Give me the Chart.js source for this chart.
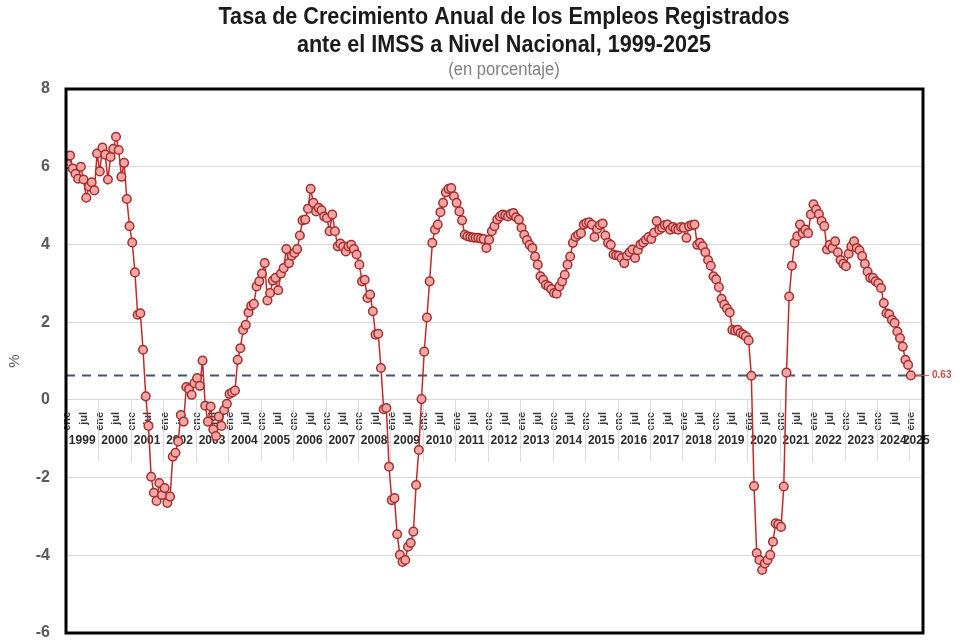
<!DOCTYPE html>
<html>
<head>
<meta charset="utf-8">
<script src="https://cdn.jsdelivr.net/npm/chart.js@4.4.1/dist/chart.umd.min.js"></script>
<style>
  html, body { margin: 0; background: #fff; }
</style>
</head>
<body>
<canvas id="empleosChart" width="960" height="640"></canvas>
<script>
// tasa anual (%) por mes, ene..dic de cada año
const anios = [1999, 2000, 2001, 2002, 2003, 2004, 2005, 2006, 2007, 2008, 2009, 2010, 2011,
    2012, 2013, 2014, 2015, 2016, 2017, 2018, 2019, 2020, 2021, 2022, 2023, 2024, 2025];

const tasa1999 = [6.07, 6.29, 5.95, 5.82, 5.69, 6.0, 5.67, 5.2, 5.49, 5.6, 5.39, 6.34];
const tasa2000 = [5.88, 6.49, 6.31, 5.67, 6.25, 6.46, 6.77, 6.43, 5.74, 6.1, 5.17, 4.47];
const tasa2001 = [4.05, 3.28, 2.19, 2.23, 1.29, 0.09, -0.67, -1.98, -2.39, -2.6, -2.14, -2.45];
const tasa2002 = [-2.27, -2.65, -2.49, -1.46, -1.36, -1.07, -0.39, -0.56, 0.33, 0.28, 0.13, 0.43];
const tasa2003 = [0.56, 0.36, 1.01, -0.15, -0.56, -0.17, -0.76, -0.93, -0.43, -0.67, -0.26, -0.1];
const tasa2004 = [0.15, 0.19, 0.24, 1.03, 1.33, 1.8, 1.93, 2.25, 2.42, 2.47, 2.92, 3.05];
const tasa2005 = [3.25, 3.52, 2.56, 2.75, 3.07, 3.14, 2.82, 3.25, 3.39, 3.88, 3.52, 3.71];
const tasa2006 = [3.78, 3.88, 4.23, 4.62, 4.64, 4.92, 5.43, 5.07, 4.85, 4.94, 4.88, 4.72];
const tasa2007 = [4.68, 4.34, 4.77, 4.34, 3.95, 4.02, 3.94, 3.82, 3.95, 3.99, 3.88, 3.74];
const tasa2008 = [3.48, 3.05, 3.09, 2.62, 2.71, 2.28, 1.68, 1.7, 0.82, -0.24, -0.21, -1.72];
const tasa2009 = [-2.58, -2.53, -3.46, -3.99, -4.17, -4.12, -3.78, -3.68, -3.39, -2.19, -1.29, 0.02];
const tasa2010 = [1.24, 2.12, 3.05, 4.04, 4.38, 4.51, 4.83, 5.07, 5.34, 5.43, 5.45, 5.24];
const tasa2011 = [5.07, 4.85, 4.62, 4.25, 4.21, 4.19, 4.18, 4.17, 4.17, 4.15, 4.14, 3.91];
const tasa2012 = [4.12, 4.34, 4.47, 4.64, 4.72, 4.77, 4.75, 4.72, 4.78, 4.81, 4.7, 4.64];
const tasa2013 = [4.43, 4.25, 4.11, 3.99, 3.91, 3.69, 3.48, 3.18, 3.09, 2.96, 2.92, 2.85];
const tasa2014 = [2.75, 2.73, 2.92, 3.05, 3.22, 3.48, 3.69, 4.04, 4.19, 4.25, 4.29, 4.51];
const tasa2015 = [4.55, 4.57, 4.51, 4.19, 4.4, 4.5, 4.54, 4.23, 4.04, 3.99, 3.74, 3.72];
const tasa2016 = [3.71, 3.65, 3.52, 3.71, 3.8, 3.87, 3.65, 3.85, 4.0, 4.05, 4.12, 4.19];
const tasa2017 = [4.14, 4.3, 4.6, 4.38, 4.43, 4.5, 4.51, 4.38, 4.45, 4.4, 4.38, 4.45];
const tasa2018 = [4.43, 4.17, 4.47, 4.5, 4.51, 3.99, 4.04, 3.95, 3.8, 3.6, 3.45, 3.18];
const tasa2019 = [3.1, 2.9, 2.6, 2.45, 2.35, 2.25, 1.8, 1.78, 1.8, 1.72, 1.68, 1.63];
const tasa2020 = [1.53, 0.62, -2.22, -3.94, -4.12, -4.38, -4.21, -4.12, -3.99, -3.65, -3.18, -3.2];
const tasa2021 = [-3.27, -2.23, 0.7, 2.66, 3.45, 4.04, 4.21, 4.51, 4.29, 4.38, 4.29, 4.77];
const tasa2022 = [5.03, 4.9, 4.78, 4.6, 4.47, 3.87, 3.99, 3.91, 4.08, 3.8, 3.6, 3.5];
const tasa2023 = [3.44, 3.76, 3.95, 4.08, 3.91, 3.85, 3.7, 3.5, 3.3, 3.14, 3.14, 3.05];
const tasa2024 = [3.0, 2.88, 2.49, 2.23, 2.2, 2.06, 1.98, 1.76, 1.59, 1.37, 1.03, 0.9];
const tasa2025 = [0.63];

const referencia = 0.63;
const yTicks = [-6, -4, -2, 0, 2, 4, 6, 8];
const titulo = ['Tasa de Crecimiento Anual de los Empleos Registrados',
    'ante el IMSS a Nivel Nacional, 1999-2025'];
const subtitulo = '(en porcentaje)';

const tasas = [].concat(tasa1999, tasa2000, tasa2001, tasa2002, tasa2003, tasa2004, tasa2005,
    tasa2006, tasa2007, tasa2008, tasa2009, tasa2010, tasa2011, tasa2012, tasa2013, tasa2014,
    tasa2015, tasa2016, tasa2017, tasa2018, tasa2019, tasa2020, tasa2021, tasa2022, tasa2023,
    tasa2024, tasa2025);
const puntos = tasas.map((v, i) => ({ x: i, y: v }));
const xMin = -0.5, xMax = 316.5;

Chart.defaults.font.family = '"Liberation Sans", Arial, sans-serif';

// título angosto (no hay fuente condensada), separadores y años bajo el eje, marco negro
const ejeAnios = {
    id: 'ejeAnios',
    beforeDraw(chart) {
        const ctx = chart.ctx;
        const cx = 504;
        ctx.save();
        ctx.fillStyle = '#1a1a1a';
        ctx.font = 'bold 24px "Liberation Sans", Arial';
        ctx.textAlign = 'center';
        ctx.textBaseline = 'middle';
        ctx.save();
        ctx.translate(cx, 0);
        ctx.scale(0.9, 1);
        ctx.fillText(titulo[0], 0, 17);
        ctx.fillText(titulo[1], 0, 45);
        ctx.restore();
        ctx.fillStyle = '#7f7f7f';
        ctx.translate(cx, 0);
        ctx.scale(0.92, 1);
        ctx.font = '18px "Liberation Sans", Arial';
        ctx.fillText(subtitulo, 0, 70);
        ctx.restore();
    },
    beforeDatasetsDraw(chart) {
        const { ctx, scales: { x, y } } = chart;
        const y0 = y.getPixelForValue(0);
        ctx.save();
        ctx.strokeStyle = '#d9d9d9';
        ctx.lineWidth = 1;
        for (let k = 1; k < anios.length; k++) {
            const px = Math.round(x.getPixelForValue(k * 12 - 0.5)) + 0.5;
            ctx.beginPath();
            ctx.moveTo(px, y0);
            ctx.lineTo(px, y0 + 62);
            ctx.stroke();
        }
        ctx.fillStyle = '#2b2b2b';
        ctx.font = 'bold 12px "Liberation Sans", Arial';
        ctx.textAlign = 'center';
        ctx.textBaseline = 'middle';
        anios.forEach((a, k) => {
            const centro = k < anios.length - 1 ? k * 12 + 5.5 : k * 12 + 2;
            ctx.fillText(String(a), x.getPixelForValue(centro), y0 + 41);
        });
        ctx.restore();
    },
    afterDraw(chart) {
        const { ctx, chartArea: a, scales: { x, y } } = chart;
        ctx.save();
        ctx.strokeStyle = '#000';
        ctx.lineWidth = 3;
        ctx.strokeRect(a.left, a.top, a.width, a.height);
        // etiqueta del último dato
        const ult = tasas.length - 1;
        const py = y.getPixelForValue(referencia);
        ctx.strokeStyle = '#d9534f';
        ctx.lineWidth = 1;
        ctx.beginPath();
        ctx.moveTo(x.getPixelForValue(ult) + 5, py);
        ctx.lineTo(a.right + 6, py);
        ctx.stroke();
        ctx.fillStyle = '#c0504d';
        ctx.font = 'bold 10px "Liberation Sans", Arial';
        ctx.textBaseline = 'middle';
        ctx.fillText(String(referencia), a.right + 9, py);
        ctx.restore();
    }
};

new Chart(document.getElementById('empleosChart'), {
    type: 'line',
    data: {
        datasets: [
            {
                label: 'Tasa anual',
                data: puntos,
                borderColor: '#c62828',
                borderWidth: 1.5,
                pointRadius: 4.3,
                pointBorderWidth: 1.5,
                pointBorderColor: '#a3302f',
                pointBackgroundColor: '#f6a5a5',
                tension: 0
            },
            {
                label: 'Referencia',
                data: [{ x: xMin, y: referencia }, { x: xMax, y: referencia }],
                borderColor: '#44546a',
                borderWidth: 2,
                borderDash: [9, 7],
                pointRadius: 0
            }
        ]
    },
    options: {
        responsive: false,
        animation: false,
        devicePixelRatio: 1,
        layout: { padding: { left: 0, right: 37, top: 89, bottom: 7 } },
        plugins: {
            legend: { display: false },
            tooltip: { enabled: false },
            title: { display: false },
            subtitle: { display: false }
        },
        scales: {
            x: {
                type: 'linear',
                position: { y: 0 },
                min: xMin,
                max: xMax,
                afterBuildTicks: (scale) => {
                    const t = [];
                    for (let i = 0; i < tasas.length; i += 6) t.push({ value: i });
                    scale.ticks = t;
                },
                afterFit: (scale) => {
                    scale.height = 0;
                    scale.paddingLeft = scale.paddingRight = 0;
                    scale.paddingTop = scale.paddingBottom = 0;
                },
                ticks: {
                    autoSkip: false,
                    minRotation: 90,
                    maxRotation: 90,
                    padding: 4,
                    font: { size: 11, weight: 'bold' },
                    color: '#3a3a3a',
                    callback: (v) => (v % 12 === 0 ? 'ene' : 'jul')
                },
                grid: { display: false },
                border: { display: false }
            },
            y: {
                min: -6,
                max: 8,
                afterBuildTicks: (scale) => { scale.ticks = yTicks.map(v => ({ value: v })); },
                afterFit: (scale) => {
                    scale.width = 66;
                    scale.paddingTop = scale.paddingBottom = 0;
                },
                ticks: {
                    padding: 16,
                    font: { size: 16, weight: 'bold' },
                    color: '#595959'
                },
                grid: { color: '#d9d9d9', lineWidth: 1, drawTicks: false },
                border: { display: false },
                title: {
                    display: true,
                    text: '%',
                    font: { size: 15 },
                    color: '#595959',
                    padding: { top: 6, bottom: 0 }
                }
            }
        }
    },
    plugins: [ejeAnios]
});
</script>
</body>
</html>
